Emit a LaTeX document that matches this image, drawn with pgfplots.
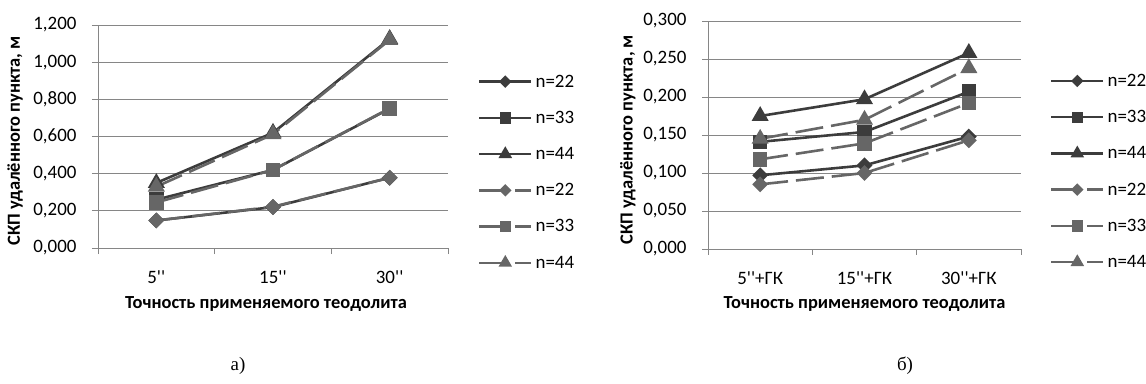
\documentclass[border=0pt]{standalone}
\usepackage{pgfplots}
\pgfplotsset{compat=1.18}
\usepackage{fontspec}
\setmainfont{Carlito}[Ligatures=TeXOff]
\newfontfamily\capfont{Liberation Serif}
\definecolor{axgray}{HTML}{868686}
\definecolor{sdark}{HTML}{3C3C3C}
\definecolor{sgray}{HTML}{666666}
\pgfplotsset{
  common/.style={
    scale only axis,
    axis lines*=left,
    axis line style={axgray, line width=0.8bp},
    xmin=-0.5, xmax=2.5, ymin=0,
    xtick={0,1,2},
    major x tick style={draw=none},
    minor xtick={-0.5,0.5,1.5,2.5},
    minor x tick style={axgray, line width=0.8bp},
    tick align=outside,
    minor tick length=6bp,
    major tick length=6bp,
    ytick style={axgray, line width=0.8bp},
    ymajorgrids,
    major grid style={axgray, line width=0.8bp},
    tick label style={font=\fontsize{19}{22}\selectfont, black},
    xticklabel style={anchor=center, yshift=-23bp},
    yticklabel style={anchor=east, xshift=-12bp, /pgf/number format/.cd, fixed, fixed zerofill, precision=3, use comma, assume math mode=true},
    label style={font=\bfseries\fontsize{18.5}{21}\selectfont},
    legend style={draw=none, fill=none, font=\fontsize{19}{22}\selectfont,
      /tikz/every even column/.append style={column sep=0bp},
      row sep=16.5bp, anchor=west, inner sep=0pt, outer sep=0pt,
      nodes={inner sep=3bp}},
    legend cell align=left,
    legend image code/.code={\draw[mark repeat=2,mark phase=2] plot coordinates {(0bp,0bp)(26bp,0bp)(52bp,0bp)};},
    legend image post style={/tikz/every mark/.append style={scale=0.72}},
  },
  sd/.style={sdark, line width=2.6bp, solid},
  sg/.style={sgray, line width=2.6bp, dash pattern=on 28bp off 8bp},
  mdia/.style={mark=square*, mark size=4.3bp, mark options={solid, rotate=45}},
  msq/.style={mark=square*, mark size=6bp, mark options={solid}},
  mtri/.style={mark=triangle*, mark size=7.3bp, mark options={solid}},
}
\begin{document}
\begin{tikzpicture}
\path[use as bounding box] (0,0) rectangle (1146bp,384bp);
\begin{axis}[common,
  at={(98bp,136bp)}, anchor=south west,
  width=350bp, height=223bp,
  ymax=1.2, ytick={0,0.2,...,1.21},
  xticklabels={5'',15'',30''},
  xlabel={Точность применяемого теодолита},
  ylabel={СКП удалённого пункта, м},
  x label style={at={(axis description cs:0.48,0)}, anchor=center, yshift=-56bp},
  y label style={at={(axis description cs:-0.237,0.48)}, anchor=center},
  legend style={at={(axis description cs:1,0.34)}, xshift=30bp},
]
\addplot[sd, mdia] coordinates {(0,0.148) (1,0.220) (2,0.378)};
\addplot[sd, msq] coordinates {(0,0.260) (1,0.420) (2,0.750)};
\addplot[sd, mtri] coordinates {(0,0.350) (1,0.620) (2,1.125)};
\addplot[sg, mdia] coordinates {(0,0.148) (1,0.222) (2,0.378)};
\addplot[sg, msq] coordinates {(0,0.245) (1,0.420) (2,0.752)};
\addplot[sg, mtri] coordinates {(0,0.330) (1,0.612) (2,1.120)};
\legend{n=22,n=33,n=44,n=22,n=33,n=44}
\end{axis}
\begin{axis}[common,
  at={(708bp,135bp)}, anchor=south west,
  width=313bp, height=228bp,
  ymax=0.3, ytick={0,0.05,...,0.301},
  xticklabels={5''+ГК,15''+ГК,30''+ГК},
  xlabel={Точность применяемого теодолита},
  ylabel={СКП удалённого пункта, м},
  x label style={at={(axis description cs:0.5,0)}, anchor=center, yshift=-55bp},
  y label style={at={(axis description cs:-0.256,0.48)}, anchor=center},
  legend style={at={(axis description cs:1,0.34)}, xshift=29bp},
]
\addplot[sd, mdia] coordinates {(0,0.097) (1,0.110) (2,0.148)};
\addplot[sd, msq] coordinates {(0,0.141) (1,0.154) (2,0.207)};
\addplot[sd, mtri] coordinates {(0,0.175) (1,0.197) (2,0.258)};
\addplot[sg, mdia] coordinates {(0,0.085) (1,0.100) (2,0.143)};
\addplot[sg, msq] coordinates {(0,0.118) (1,0.139) (2,0.192)};
\addplot[sg, mtri] coordinates {(0,0.145) (1,0.170) (2,0.238)};
\legend{n=22,n=33,n=44,n=22,n=33,n=44}
\end{axis}
\node[font=\capfont\fontsize{19}{22}\selectfont] at (238bp,18bp) {а)};
\node[font=\capfont\fontsize{19}{22}\selectfont] at (905bp,18bp) {б)};
\end{tikzpicture}
\end{document}
